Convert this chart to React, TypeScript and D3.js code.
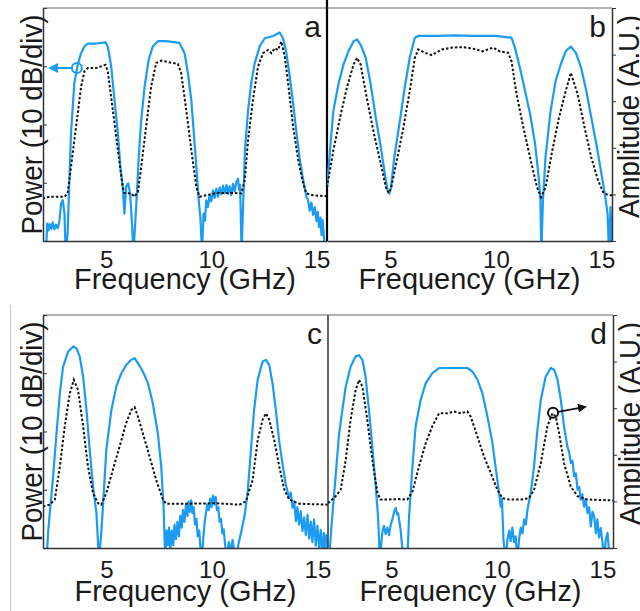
import React, { useRef, useEffect } from 'react';
import * as d3 from 'd3';

type Pt = [number, number];

// Axis ticks
const freqTicks = [5, 10, 15];
const powerTicks = [0, -10, -20, -30, -40];
const ampTicks = [0, 1, 2, 3, 4, 5];

// Panel a: [GHz, dB] for the measured power, [GHz, A.U.] for the amplitude
const powerA: Pt[] = [
  [2.14, -42], [2.2, -37.0], [2.26, -38.2], [2.32, -37.1], [2.4, -37.9], [2.46, -36.8], [2.54, -38.0],
  [2.62, -37.2], [2.7, -37.8], [2.78, -36.6],
  [2.86, -33.6], [2.94, -33.0], [3.02, -35.3], [3.08, -42], [3.17, -38.7], [3.25, -30.1],
  [3.33, -21.5], [3.49, -12.9], [3.65, -9.75], [3.81, -7.75], [3.97, -6.6], [4.13, -6.1],
  [4.52, -6.1], [4.97, -5.9], [5.08, -6.6], [5.24, -10.0], [5.4, -15.8], [5.56, -21.5],
  [5.68, -27.3], [5.79, -30.7], [5.87, -35.3], [5.95, -30.7], [6.05, -30.1], [6.14, -31.8],
  [6.22, -36.4], [6.3, -42], [6.4, -35.9], [6.48, -30.7], [6.56, -25.0], [6.67, -19.2],
  [6.83, -13.5], [7.02, -8.9], [7.22, -6.6], [7.46, -5.7], [7.86, -5.7], [8.49, -6.0],
  [8.73, -7.75], [8.89, -11.2], [9.05, -15.8], [9.17, -21.5], [9.29, -27.3], [9.4, -33.0],
  [9.48, -35.9], [9.56, -42], [9.63, -35.3], [9.7, -36.5], [9.76, -33.0], [9.84, -34.2], [9.92, -32.1],
  [10.0, -33.2], [10.08, -31.3], [10.16, -32.6], [10.24, -31.0], [10.32, -32.4], [10.4, -30.8],
  [10.48, -32.0], [10.56, -30.5], [10.64, -31.8], [10.72, -30.4], [10.8, -31.9], [10.87, -30.6],
  [10.95, -32.1], [11.03, -30.2], [11.11, -31.5], [11.19, -29.9], [11.27, -29.3], [11.32, -31.2], [11.37, -30.4],
  [11.44, -42], [11.52, -33.0], [11.6, -24.4], [11.75, -17.5], [11.9, -12.9], [12.06, -9.5],
  [12.3, -6.6], [12.54, -5.2], [12.94, -4.8], [13.25, -4.2], [13.41, -5.2], [13.57, -7.75],
  [13.73, -11.8], [13.89, -16.4], [14.05, -21.5], [14.21, -26.1], [14.37, -29.5], [14.52, -32.4],
  [14.6, -33.0], [14.68, -34.8], [14.76, -33.4], [14.84, -35.5], [14.92, -34.2], [15.0, -36.6],
  [15.06, -35.0], [15.12, -37.6], [15.19, -36.0], [15.24, -39.0], [15.29, -36.4], [15.34, -38.5], [15.4, -42],
];
const ampA: Pt[] = [
  [1.98, 0.91], [2.3, 0.95], [3.02, 0.95], [3.17, 1.02], [3.33, 1.59], [3.57, 2.45],
  [3.81, 3.31], [3.97, 3.64], [4.13, 3.71], [4.52, 3.71], [4.97, 3.78], [5.08, 3.64],
  [5.32, 2.81], [5.56, 1.95], [5.79, 1.16], [5.87, 1.03], [6.19, 1.02], [6.35, 0.95],
  [6.51, 1.05], [6.67, 1.59], [6.9, 2.45], [7.14, 3.31], [7.38, 3.82], [7.62, 3.87],
  [8.17, 3.82], [8.41, 3.8], [8.57, 3.6], [8.81, 2.81], [9.05, 1.95], [9.29, 1.16],
  [9.44, 0.95], [9.76, 0.98], [10.24, 1.03], [11.03, 1.03], [11.43, 1.02], [11.59, 1.31],
  [11.75, 2.17], [11.98, 3.03], [12.22, 3.74], [12.46, 4.03], [12.7, 4.1], [12.86, 4.03],
  [13.02, 4.14], [13.17, 4.1], [13.33, 4.28], [13.49, 3.96], [13.65, 3.39], [13.89, 2.45],
  [14.13, 1.74], [14.37, 1.23], [14.52, 1.02], [14.84, 0.98], [15.5, 0.96],
];

// Panel b
const powerB: Pt[] = [
  [2.0, -30.8], [2.14, -24.5], [2.3, -17.7], [2.54, -13.1], [2.78, -9.7], [3.02, -7.4],
  [3.26, -5.7], [3.42, -5.4], [3.59, -6.3], [3.83, -8.5], [4.07, -13.1], [4.31, -18.8],
  [4.55, -23.9], [4.74, -28.5], [4.87, -31.3], [4.95, -31.9], [5.03, -30.8], [5.19, -25.6],
  [5.43, -19.9], [5.68, -13.7], [5.92, -8.5], [6.16, -5.1], [6.32, -4.8], [7.28, -4.8],
  [8.09, -4.7], [8.89, -4.8], [10.0, -4.8], [10.74, -5.1], [10.9, -6.8], [11.14, -10.3],
  [11.38, -14.2], [11.62, -18.2], [11.86, -23.4], [12.03, -29.1], [12.11, -33.0], [12.15, -42],
  [12.23, -33.0], [12.35, -25.6], [12.59, -17.7], [12.83, -12.5], [13.07, -9.7], [13.31, -7.4],
  [13.55, -6.6], [13.79, -7.7], [14.04, -10.3], [14.28, -14.2], [14.52, -18.8], [14.76, -23.4],
  [15.0, -28.5], [15.16, -31.9], [15.29, -35.3], [15.36, -42], [15.43, -34.2], [15.5, -42],
];
const ampB: Pt[] = [
  [2.0, 1.15], [2.3, 1.94], [2.62, 2.65], [2.94, 3.29], [3.26, 3.79], [3.42, 3.93],
  [3.59, 3.79], [3.91, 3.01], [4.23, 2.29], [4.55, 1.65], [4.79, 1.15], [4.92, 1.03],
  [5.03, 1.12], [5.27, 1.65], [5.59, 2.36], [5.92, 3.22], [6.16, 3.93], [6.32, 4.11],
  [6.64, 4.04], [6.96, 3.99], [7.44, 4.11], [7.93, 4.15], [8.41, 4.16], [8.89, 4.13],
  [9.37, 4.07], [9.86, 4.15], [10.18, 4.07], [10.58, 4.04], [10.74, 3.86], [10.98, 3.15],
  [11.3, 2.44], [11.62, 1.79], [11.95, 1.15], [12.14, 0.94], [12.35, 1.15], [12.67, 1.94],
  [12.99, 2.65], [13.31, 3.22], [13.55, 3.61], [13.87, 3.15], [14.2, 2.44], [14.52, 1.79],
  [14.84, 1.3], [15.08, 1.05], [15.32, 0.98], [15.5, 0.98],
];

// Panel c
const powerC: Pt[] = [
  [2.17, -42], [2.24, -37.4], [2.32, -34.0], [2.48, -27.7], [2.64, -20.3], [2.8, -13.4],
  [2.95, -8.9], [3.19, -6.3], [3.43, -5.4], [3.58, -5.7], [3.74, -7.1], [3.9, -10.6],
  [4.06, -16.3], [4.21, -23.1], [4.37, -29.4], [4.53, -34.0], [4.65, -42], [4.76, -37.4],
  [4.84, -32.9], [5.0, -23.1], [5.24, -16.3], [5.47, -12.3], [5.71, -10.0], [5.94, -8.6],
  [6.18, -7.7], [6.34, -7.4], [6.5, -8.3], [6.73, -9.7], [6.97, -11.7], [7.2, -15.1],
  [7.44, -20.3], [7.6, -26.0], [7.71, -32.9], [7.79, -42], [7.85, -37.0], [7.91, -39.5],
  [7.97, -36.5], [8.03, -40.5], [8.1, -37.0], [8.17, -39.5], [8.23, -36.0], [8.3, -38.5],
  [8.37, -35.5], [8.44, -38.0], [8.5, -34.5], [8.57, -36.5], [8.63, -33.5], [8.7, -35.5],
  [8.77, -32.5], [8.84, -34.5], [8.9, -32.0], [8.96, -33.8], [9.02, -31.8], [9.08, -34.0],
  [9.14, -33.0], [9.2, -36.0], [9.27, -35.0], [9.33, -38.0], [9.4, -37.0], [9.46, -40.0],
  [9.52, -42], [9.6, -38.0], [9.66, -35.5], [9.72, -34.0], [9.78, -32.5], [9.85, -33.5],
  [9.92, -31.5], [9.98, -33.0], [10.05, -31.0], [10.12, -32.5], [10.18, -31.2], [10.24, -33.5],
  [10.3, -33.0], [10.37, -35.5], [10.43, -35.0], [10.5, -37.5], [10.56, -36.8], [10.63, -39.5],
  [10.7, -42], [10.8, -39.0], [10.9, -40.5], [10.98, -38.6], [11.08, -41], [11.15, -42],
  [11.25, -39.5], [11.38, -37.4], [11.54, -34.6], [11.69, -30.6], [11.85, -23.1],
  [12.0, -16.3], [12.17, -11.1], [12.4, -8.0], [12.56, -7.7], [12.72, -8.6], [12.87, -11.7],
  [13.03, -16.3], [13.19, -21.7], [13.35, -25.7], [13.5, -29.1], [13.66, -31.4], [13.74, -30.5],
  [13.82, -33.1], [13.9, -32.0], [13.98, -35.4], [14.05, -33.0], [14.13, -36.0], [14.21, -33.7],
  [14.29, -37.1], [14.37, -34.8], [14.45, -37.8], [14.53, -34.3], [14.61, -38.4], [14.69, -35.5],
  [14.76, -39.0], [14.84, -35.1], [14.92, -39.6], [15.0, -36.2], [15.08, -40.0], [15.16, -36.9],
  [15.24, -42], [15.3, -37.4], [15.36, -40.5], [15.42, -37.8], [15.47, -42],
];
const ampC: Pt[] = [
  [2.0, 0.89], [2.32, 0.93], [2.56, 1.04], [2.8, 1.75], [3.03, 2.61], [3.27, 3.32],
  [3.46, 3.61], [3.66, 3.39], [3.9, 2.61], [4.13, 1.75], [4.37, 1.18], [4.61, 0.96],
  [4.76, 0.93], [5.0, 1.18], [5.31, 1.68], [5.63, 2.18], [5.94, 2.68], [6.18, 2.96],
  [6.34, 3.02], [6.5, 2.82], [6.73, 2.46], [7.05, 1.96], [7.36, 1.46], [7.68, 1.04],
  [7.83, 0.95], [8.62, 0.95], [10.2, 0.96], [11.3, 0.93], [11.61, 1.0], [11.93, 1.46],
  [12.17, 2.32], [12.4, 2.75], [12.56, 2.89], [12.72, 2.75], [12.95, 2.32], [13.19, 1.75],
  [13.43, 1.25], [13.66, 1.04], [14.13, 0.95], [15.5, 0.93],
];

// Panel d
const powerD: Pt[] = [
  [2.05, -42], [2.2, -34.6], [2.36, -27.7], [2.52, -20.6], [2.68, -16.3], [2.84, -12.3],
  [3.07, -8.9], [3.31, -7.1], [3.47, -6.9], [3.63, -7.7], [3.78, -10.6], [3.94, -16.3],
  [4.1, -22.6], [4.26, -29.4], [4.37, -34.6], [4.46, -42], [4.57, -37.4], [4.65, -36.2], [4.73, -37.6],
  [4.81, -36.5], [4.89, -37.8], [4.97, -36.0], [5.05, -35.1], [5.13, -33.8], [5.21, -33.1], [5.27, -34.2],
  [5.32, -34.0], [5.44, -36.9], [5.57, -42],
  [5.76, -42], [5.84, -34.6], [6.0, -26.0], [6.15, -19.1], [6.39, -14.6], [6.63, -11.7],
  [6.94, -10.0], [7.26, -9.1], [7.97, -9.1], [8.6, -9.1], [8.84, -9.7], [9.08, -11.1],
  [9.31, -13.4], [9.55, -17.4], [9.79, -22.0], [10.02, -28.3], [10.1, -30.5], [10.18, -32.9], [10.24, -31.5],
  [10.31, -38.6], [10.42, -42], [10.5, -38.5], [10.58, -37.0], [10.65, -38.8], [10.73, -36.5],
  [10.81, -39.0], [10.89, -38.0], [10.97, -42], [11.05, -38.5], [11.13, -36.5], [11.21, -37.5],
  [11.29, -35.1], [11.37, -36.0], [11.45, -33.4], [11.6, -30.6], [11.76, -26.0], [11.92, -19.7],
  [12.08, -14.6], [12.31, -10.6], [12.55, -9.1], [12.71, -9.4], [12.87, -11.1], [13.03, -14.6],
  [13.18, -19.1], [13.34, -22.6], [13.42, -23.5], [13.5, -25.4], [13.58, -25.0], [13.66, -27.7],
  [13.74, -27.2], [13.82, -30.0], [13.9, -29.5], [13.97, -31.7], [14.05, -30.8], [14.13, -32.9],
  [14.21, -31.6], [14.29, -34.0], [14.37, -33.0], [14.45, -36.3], [14.53, -33.8], [14.61, -34.6],
  [14.69, -37.5], [14.76, -35.1], [14.84, -38.2], [14.92, -36.6], [15.0, -39.0], [15.08, -42],
  [15.16, -38.5], [15.24, -37.4], [15.3, -40.0], [15.36, -42],
];
const ampD: Pt[] = [
  [2.0, 0.96], [2.36, 1.11], [2.6, 1.25], [2.84, 1.89], [3.07, 2.75], [3.31, 3.39],
  [3.47, 3.61], [3.63, 3.46], [3.86, 2.75], [4.1, 1.89], [4.34, 1.18], [4.49, 1.04],
  [4.81, 1.04], [5.28, 1.05], [5.76, 1.04], [6.0, 1.21], [6.31, 1.75], [6.63, 2.25],
  [6.94, 2.61], [7.26, 2.89], [7.65, 2.89], [7.97, 2.93], [8.29, 2.89], [8.6, 2.93],
  [8.76, 2.82], [9.08, 2.39], [9.39, 1.96], [9.71, 1.61], [10.02, 1.25], [10.26, 1.07],
  [10.58, 1.04], [11.13, 1.04], [11.52, 1.07], [11.76, 1.25], [12.08, 1.82], [12.39, 2.61],
  [12.63, 2.89], [12.79, 2.82], [12.95, 2.46], [13.18, 1.82], [13.5, 1.32], [13.82, 1.11],
  [14.29, 1.04], [15.5, 1.02],
];

// Layout of the four panels
const panels = [
  { id: 'a', power: powerA, amp: ampA, x0: 43, x1: 327, y0: 8, y1: 241, left: true, right: false, tickPad: 10, titleY: 289 },
  { id: 'b', power: powerB, amp: ampB, x0: 327, x1: 612, y0: 8, y1: 241, left: false, right: true, tickPad: 10, titleY: 289 },
  { id: 'c', power: powerC, amp: ampC, x0: 43, x1: 328, y0: 315, y1: 548, left: true, right: false, tickPad: 13, titleY: 601 },
  { id: 'd', power: powerD, amp: ampD, x0: 328, x1: 613, y0: 315, y1: 548, left: false, right: true, tickPad: 13, titleY: 601 },
];

const BLUE = '#1b9cf2';
const FONT = '"Liberation Sans", Arial, sans-serif';

const App = () => {
  const svgRef = useRef<SVGSVGElement>(null);

  useEffect(() => {
    const svg = d3.select(svgRef.current);
    svg.selectAll('*').remove();

    const defs = svg.append('defs');
    [['arrowBlue', BLUE], ['arrowBlack', '#111']].forEach(([id, c]) => {
      defs.append('marker')
        .attr('id', id)
        .attr('viewBox', '0 0 10 10')
        .attr('refX', 8).attr('refY', 5)
        .attr('markerWidth', 5).attr('markerHeight', 5)
        .attr('orient', 'auto')
        .append('path').attr('d', 'M0,0L10,5L0,10Z').attr('fill', c);
    });

    // stray gray rule at the left of the lower row
    svg.append('line')
      .attr('x1', 10.5).attr('x2', 10.5).attr('y1', 305).attr('y2', 611)
      .attr('stroke', '#c4c4c4').attr('stroke-width', 1);

    panels.forEach(p => {
      const x = d3.scaleLinear().domain([2, 15.5]).range([p.x0, p.x1]);
      const yP = d3.scaleLinear().domain([-40, 0]).range([p.y1, p.y0]);
      const yA = d3.scaleLinear().domain([0, 5]).range([p.y1, p.y0]);

      const g = svg.append('g');

      defs.append('clipPath').attr('id', `clip-${p.id}`)
        .append('rect')
        .attr('x', p.x0).attr('y', p.y0)
        .attr('width', p.x1 - p.x0).attr('height', p.y1 - p.y0);

      const plot = g.append('g').attr('clip-path', `url(#clip-${p.id})`);

      plot.append('path')
        .datum(p.power)
        .attr('fill', 'none')
        .attr('stroke', BLUE)
        .attr('stroke-width', 2.2)
        .attr('stroke-linejoin', 'round')
        .attr('d', d3.line<Pt>().x(d => x(d[0])).y(d => yP(d[1])));

      plot.append('path')
        .datum(p.amp)
        .attr('fill', 'none')
        .attr('stroke', '#111')
        .attr('stroke-width', 2)
        .attr('stroke-dasharray', '2.5,2')
        .attr('d', d3.line<Pt>().x(d => x(d[0])).y(d => yA(d[1])));

      // top border
      g.append('line')
        .attr('x1', p.x0).attr('x2', p.x1).attr('y1', p.y0).attr('y2', p.y0)
        .attr('stroke', '#666').attr('stroke-width', 1.2);

      // bottom axis
      g.append('g')
        .attr('transform', `translate(0,${p.y1})`)
        .call(d3.axisBottom(x).tickValues(freqTicks).tickSize(0).tickPadding(p.tickPad).tickSizeOuter(0))
        .call(a => a.select('.domain').attr('stroke', '#333').attr('stroke-width', 1.5))
        .call(a => a.selectAll('text')
          .attr('font-size', 24).attr('font-family', FONT).attr('fill', '#1a1a1a'));

      g.append('text')
        .attr('x', (p.x0 + p.x1) / 2).attr('y', p.titleY)
        .attr('text-anchor', 'middle')
        .attr('font-size', 30).attr('font-family', FONT).attr('fill', '#1a1a1a')
        .attr('textLength', 222).attr('lengthAdjust', 'spacingAndGlyphs')
        .text('Frequency (GHz)');

      if (p.left) {
        g.append('g')
          .attr('transform', `translate(${p.x0},0)`)
          .call(d3.axisLeft(yP).tickValues(powerTicks).tickSize(-4).tickSizeOuter(0).tickFormat(() => ''))
          .call(a => a.select('.domain').attr('stroke', '#333').attr('stroke-width', 1.5))
          .call(a => a.selectAll('.tick line').attr('stroke', '#333'));
        g.append('text')
          .attr('transform', `translate(${p.x0 - 1},${(p.y0 + p.y1) / 2}) rotate(-90)`)
          .attr('text-anchor', 'middle')
          .attr('font-size', 29).attr('font-family', FONT).attr('fill', '#1a1a1a')
          .attr('textLength', 220).attr('lengthAdjust', 'spacingAndGlyphs')
          .text('Power (10 dB/div)');
      }

      if (p.right) {
        g.append('g')
          .attr('transform', `translate(${p.x1},0)`)
          .call(d3.axisRight(yA).tickValues(ampTicks).tickSize(4).tickSizeOuter(0).tickFormat(() => ''))
          .call(a => a.select('.domain').attr('stroke', '#333').attr('stroke-width', 1.5))
          .call(a => a.selectAll('.tick line').attr('stroke', '#333'));
        g.append('text')
          .attr('transform', `translate(${p.x1 + 27},${(p.y0 + p.y1) / 2 - 8}) rotate(-90)`)
          .attr('text-anchor', 'middle')
          .attr('font-size', 29).attr('font-family', FONT).attr('fill', '#1a1a1a')
          .attr('textLength', 203).attr('lengthAdjust', 'spacingAndGlyphs')
          .text('Amplitude (A.U.)');
      }

      // divider between left and right panels
      if (p.id === 'a') {
        g.append('line')
          .attr('x1', p.x1).attr('x2', p.x1).attr('y1', 0).attr('y2', p.y1)
          .attr('stroke', '#000').attr('stroke-width', 2.2);
      }
      if (p.id === 'c') {
        g.append('line')
          .attr('x1', p.x1).attr('x2', p.x1).attr('y1', p.y0).attr('y2', p.y1)
          .attr('stroke', '#333').attr('stroke-width', 1.5);
      }

      // panel letter
      g.append('text')
        .attr('x', p.x1 - 6).attr('y', p.y0 + 29)
        .attr('text-anchor', 'end')
        .attr('font-size', 30).attr('font-family', FONT).attr('fill', '#1a1a1a')
        .text(p.id);
    });

    // arrow markers pointing to the relevant axis
    const pa = panels[0];
    const xa = d3.scaleLinear().domain([2, 15.5]).range([pa.x0, pa.x1]);
    const ya = d3.scaleLinear().domain([-40, 0]).range([pa.y1, pa.y0]);
    svg.append('circle')
      .attr('cx', xa(3.61)).attr('cy', ya(-10.3)).attr('r', 5)
      .attr('fill', 'none').attr('stroke', BLUE).attr('stroke-width', 2);
    svg.append('line')
      .attr('x1', xa(3.61) - 5).attr('y1', ya(-10.3))
      .attr('x2', xa(2.33)).attr('y2', ya(-10.3))
      .attr('stroke', BLUE).attr('stroke-width', 2)
      .attr('marker-end', 'url(#arrowBlue)');

    const pd = panels[3];
    const xd = d3.scaleLinear().domain([2, 15.5]).range([pd.x0, pd.x1]);
    const yd = d3.scaleLinear().domain([0, 5]).range([pd.y1, pd.y0]);
    svg.append('circle')
      .attr('cx', xd(12.66)).attr('cy', yd(2.9)).attr('r', 5)
      .attr('fill', 'none').attr('stroke', '#111').attr('stroke-width', 2);
    svg.append('line')
      .attr('x1', xd(12.66) + 5).attr('y1', yd(2.92))
      .attr('x2', xd(14.18)).attr('y2', yd(3.03))
      .attr('stroke', '#111').attr('stroke-width', 1.8)
      .attr('marker-end', 'url(#arrowBlack)');
  }, []);

  return (
    <svg
      ref={svgRef}
      width={640}
      height={611}
      style={{ position: 'absolute', left: 0, top: 0, background: '#fff' }}
    />
  );
};

export default App;
